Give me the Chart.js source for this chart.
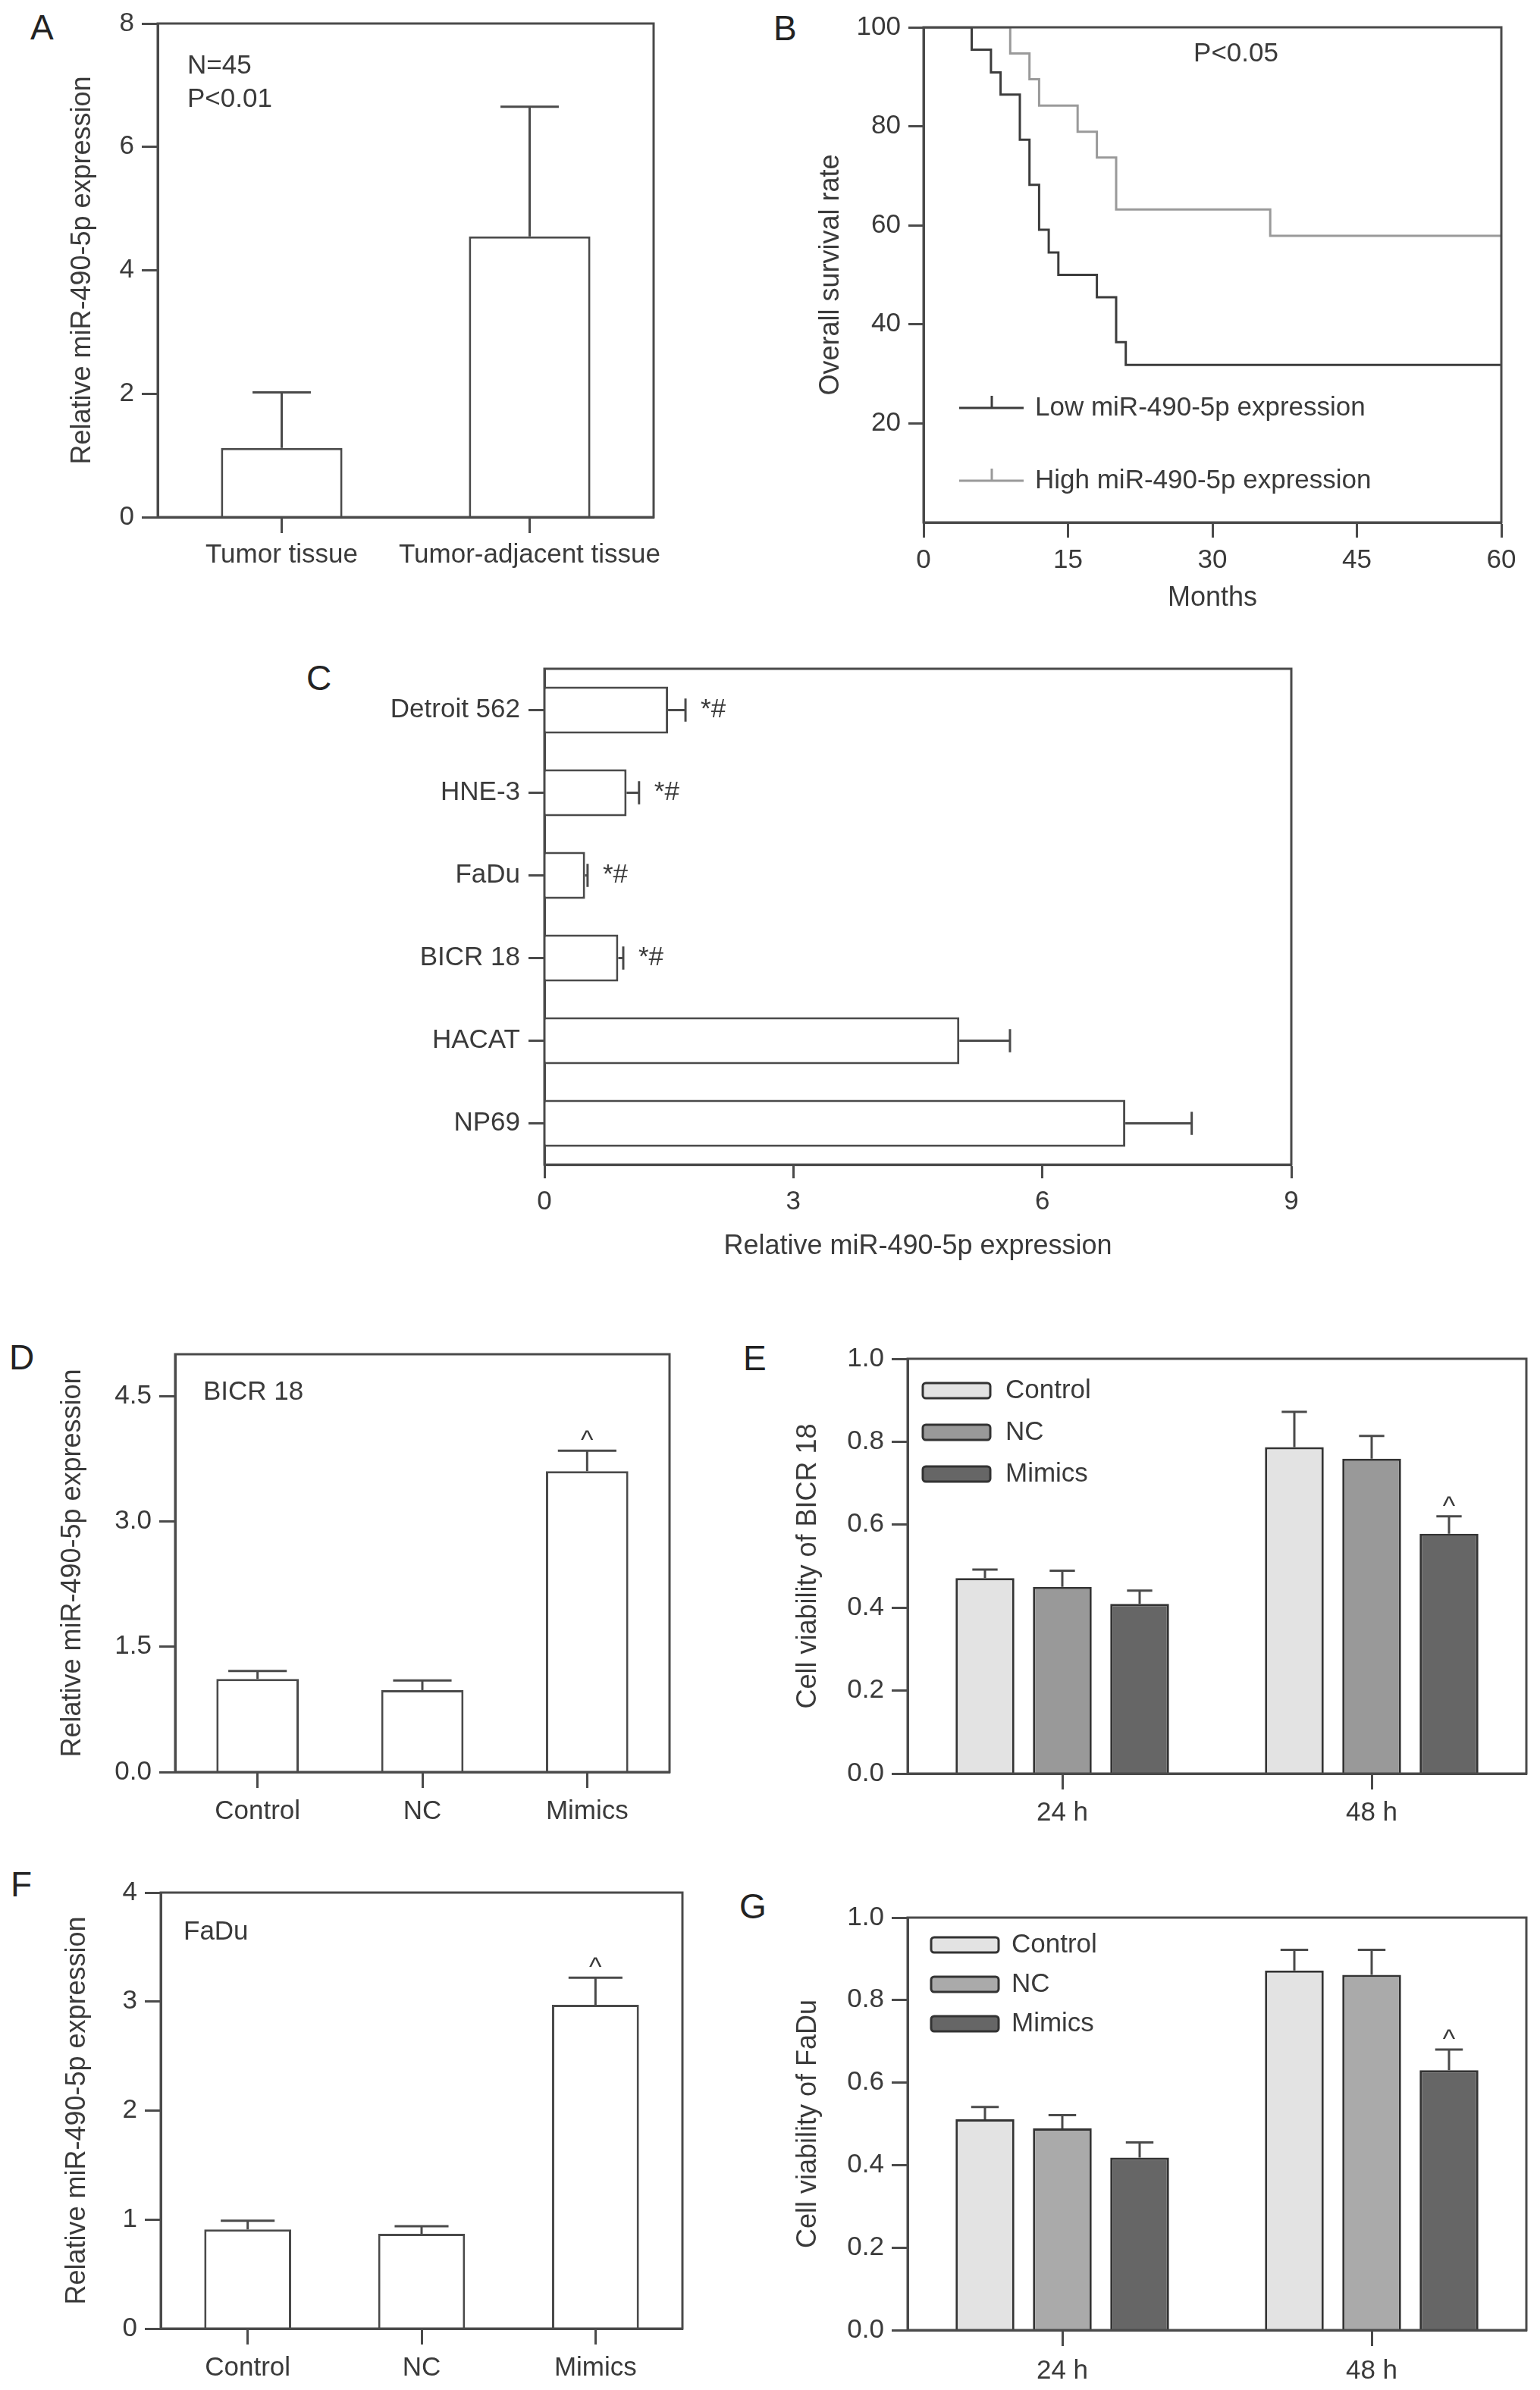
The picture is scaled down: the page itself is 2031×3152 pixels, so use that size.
<!DOCTYPE html>
<html>
<head>
<meta charset="utf-8">
<script src="https://cdn.jsdelivr.net/npm/chart.js@4.4.1/dist/chart.umd.min.js"></script>
<style>
body { margin: 0; background: #fff; width: 2031px; height: 3152px; position: relative; overflow: hidden; font-family: 'Liberation Sans', Arial, sans-serif; }
canvas { position: absolute; }
.tag { position: absolute; font-size: 46px; line-height: 1; color: #222; }
</style>
</head>
<body>
<div class="tag" style="left:40px;top:13px">A</div>
<div class="tag" style="left:1020px;top:14px">B</div>
<div class="tag" style="left:404px;top:871px">C</div>
<div class="tag" style="left:12px;top:1767px">D</div>
<div class="tag" style="left:980px;top:1768px">E</div>
<div class="tag" style="left:14px;top:2462px">F</div>
<div class="tag" style="left:975px;top:2491px">G</div>

<canvas id="chartA"></canvas>
<canvas id="chartB"></canvas>
<canvas id="chartC"></canvas>
<canvas id="chartD"></canvas>
<canvas id="chartE"></canvas>
<canvas id="chartF"></canvas>
<canvas id="chartG"></canvas>

<script>
// ---- data ----
// A: tumour vs adjacent tissue
const tissueLabels = ['Tumor tissue', 'Tumor-adjacent tissue'];
const tissueMeans = [1.12, 4.55];
const tissueErrors = [0.90, 2.10];

// B: Kaplan-Meier curves
const lowMonths = [0, 5, 7, 8, 10, 11, 12, 13, 14, 18, 20, 21, 60];
const lowSurvival = [100, 95.5, 90.9, 86.4, 77.3, 68.2, 59.1, 54.5, 50.0, 45.5, 36.4, 31.8, 31.8];
const highMonths = [0, 9, 11, 12, 16, 18, 20, 36, 60];
const highSurvival = [100, 94.7, 89.5, 84.2, 78.9, 73.7, 63.2, 57.9, 57.9];

// C: cell lines
const cellLines = ['Detroit 562', 'HNE-3', 'FaDu', 'BICR 18', 'HACAT', 'NP69'];
const cellMeans = [1.49, 0.99, 0.49, 0.89, 5.0, 7.0];
const cellErrors = [0.21, 0.15, 0.03, 0.06, 0.61, 0.80];
const cellMarks = ['*#', '*#', '*#', '*#', '', ''];

// D / F: transfection groups
const groups = ['Control', 'NC', 'Mimics'];
const bicrMeans = [1.115, 0.98, 3.60];
const bicrErrors = [0.095, 0.115, 0.245];
const fadMeans = [0.91, 0.87, 2.97];
const fadErrors = [0.08, 0.07, 0.25];
const groupMarks = ['', '', '^'];

// E / G: viability
const times = ['24 h', '48 h'];
const bicrControl = [0.471, 0.787], bicrControlErr = [0.021, 0.085];
const bicrNC = [0.450, 0.759], bicrNCErr = [0.039, 0.055];
const bicrMimics = [0.409, 0.578], bicrMimicsErr = [0.032, 0.042];
const fadControl = [0.511, 0.872], fadControlErr = [0.030, 0.050];
const fadNC = [0.489, 0.861], fadNCErr = [0.032, 0.061];
const fadMimics = [0.418, 0.630], fadMimicsErr = [0.037, 0.050];
const timeMarks = ['', '^'];

// ---- styling helpers ----
const INK = '#3a3a3a';
const LINE = '#4a4a4a';
const FONT = "'Liberation Sans', Arial, sans-serif";
const tickFont = { family: FONT, size: 35 };
const titleFont = { family: FONT, size: 36 };

function grid(len) {
    return { drawOnChartArea: false, drawTicks: true, tickLength: len, tickColor: LINE, tickWidth: 3, offset: false };
}
const border = { display: true, color: LINE, width: 3 };

function frame() {
    return {
        id: 'frame',
        afterDatasetsDraw(chart) {
            const { ctx, chartArea: a } = chart;
            ctx.save();
            ctx.strokeStyle = LINE;
            ctx.lineWidth = 3;
            ctx.strokeRect(a.left, a.top, a.right - a.left, a.bottom - a.top);
            ctx.restore();
        }
    };
}

function errorBars(capRatio, horizontal) {
    return {
        id: 'errorBars',
        afterDatasetsDraw(chart) {
            const ctx = chart.ctx;
            const valueScale = horizontal ? chart.scales.x : chart.scales.y;
            chart.data.datasets.forEach((ds, di) => {
                const meta = chart.getDatasetMeta(di);
                meta.data.forEach((bar, i) => {
                    const end = valueScale.getPixelForValue(ds.data[i] + ds.errors[i]);
                    ctx.save();
                    ctx.strokeStyle = LINE;
                    ctx.lineWidth = 3;
                    ctx.beginPath();
                    if (horizontal) {
                        const half = bar.height * capRatio / 2;
                        ctx.moveTo(bar.x, bar.y); ctx.lineTo(end, bar.y);
                        ctx.moveTo(end, bar.y - half); ctx.lineTo(end, bar.y + half);
                    } else {
                        const half = bar.width * capRatio / 2;
                        ctx.moveTo(bar.x, bar.y); ctx.lineTo(bar.x, end);
                        ctx.moveTo(bar.x - half, end); ctx.lineTo(bar.x + half, end);
                    }
                    ctx.stroke();
                    const mark = ds.marks && ds.marks[i];
                    if (mark) {
                        ctx.fillStyle = INK;
                        ctx.font = '35px ' + FONT;
                        if (horizontal) {
                            ctx.textAlign = 'left';
                            ctx.textBaseline = 'middle';
                            ctx.fillText(mark, end + 20, bar.y);
                        } else {
                            ctx.textAlign = 'center';
                            ctx.textBaseline = 'alphabetic';
                            ctx.fillText(mark, bar.x, end - 2);
                        }
                    }
                    ctx.restore();
                });
            });
        }
    };
}

function notes(items) {
    return {
        id: 'notes',
        afterDraw(chart) {
            const { ctx, chartArea: a } = chart;
            ctx.save();
            ctx.fillStyle = INK;
            ctx.font = '35px ' + FONT;
            ctx.textBaseline = 'middle';
            items.forEach(n => {
                ctx.textAlign = n.align || 'left';
                ctx.fillText(n.text, a.left + n.dx, a.top + n.dy);
            });
            ctx.restore();
        }
    };
}

function boxLegend(dx, dy, gap, textDx) {
    return {
        id: 'boxLegend',
        afterDraw(chart) {
            const { ctx, chartArea: a } = chart;
            chart.data.datasets.forEach((ds, i) => {
                const x = a.left + dx, y = a.top + dy + i * gap;
                ctx.save();
                ctx.fillStyle = ds.backgroundColor;
                ctx.strokeStyle = '#333';
                ctx.lineWidth = 3;
                ctx.beginPath();
                ctx.roundRect(x, y, 89, 20, 4);
                ctx.fill();
                ctx.stroke();
                ctx.fillStyle = INK;
                ctx.font = '35px ' + FONT;
                ctx.textAlign = 'left';
                ctx.textBaseline = 'middle';
                ctx.fillText(ds.label, x + textDx, y + 10);
                ctx.restore();
            });
        }
    };
}

function kmLegend(rows) {
    return {
        id: 'kmLegend',
        afterDraw(chart) {
            const { ctx, chartArea: a } = chart;
            chart.data.datasets.forEach((ds, i) => {
                const y = a.top + rows[i];
                const x0 = a.left + 47, x1 = a.left + 132, xm = a.left + 90;
                ctx.save();
                ctx.strokeStyle = ds.borderColor;
                ctx.lineWidth = 3;
                ctx.beginPath();
                ctx.moveTo(x0, y); ctx.lineTo(x1, y);
                ctx.moveTo(xm, y); ctx.lineTo(xm, y - 16);
                ctx.stroke();
                ctx.fillStyle = INK;
                ctx.font = '35px ' + FONT;
                ctx.textAlign = 'left';
                ctx.textBaseline = 'middle';
                ctx.fillText(ds.label, x1 + 15, y);
                ctx.restore();
            });
        }
    };
}

function yScale(min, max, step, title, fmt, extra) {
    return Object.assign({
        min: min, max: max,
        grid: grid(21),
        border: border,
        ticks: { stepSize: step, font: tickFont, color: INK, padding: 10, callback: fmt },
        title: { display: !!title, text: title, font: titleFont, color: INK, padding: { top: 0, bottom: 0 } }
    }, extra || {});
}

function catScale(labels, padding) {
    return {
        type: 'category',
        labels: labels,
        grid: grid(21),
        border: border,
        ticks: { font: tickFont, color: INK, padding: padding, maxRotation: 0, minRotation: 0, autoSkip: false }
    };
}

// place canvas so that the plot area lands on the given rectangle
function panel(id, box, plot, config) {
    const c = document.getElementById(id);
    c.width = box.w;
    c.height = box.h;
    c.style.left = box.x + 'px';
    c.style.top = box.y + 'px';
    const yw = plot.l - box.x;
    const xh = box.y + box.h - plot.b;
    const o = config.options;
    o.responsive = false;
    o.animation = false;
    o.devicePixelRatio = 1;
    o.layout = { padding: { top: plot.t - box.y, right: box.x + box.w - plot.r, left: 0, bottom: 0 } };
    o.plugins = { legend: { display: false }, tooltip: { enabled: false } };
    o.scales.x.afterFit = s => { s.height = xh; };
    o.scales.y.afterFit = s => { s.width = yw; };
    return new Chart(c, config);
}

const whiteBar = { backgroundColor: '#ffffff', borderColor: LINE, borderWidth: 3 };

// A
panel('chartA', { x: 87, y: 0, w: 893, h: 790 }, { l: 208, t: 31, r: 862, b: 682 }, {
    type: 'bar',
    data: {
        labels: tissueLabels,
        datasets: [Object.assign({ data: tissueMeans, errors: tissueErrors, barPercentage: 0.49, categoryPercentage: 1 }, whiteBar)]
    },
    options: {
        scales: {
            x: catScale(tissueLabels, 8),
            y: yScale(0, 8, 2, 'Relative miR-490-5p expression', v => v)
        }
    },
    plugins: [frame(), errorBars(0.48, false), notes([
        { text: 'N=45', dx: 39, dy: 56 },
        { text: 'P<0.01', dx: 39, dy: 100 }
    ])]
});

// B
const toPoints = (xs, ys) => xs.map((x, i) => ({ x: x, y: ys[i] }));
panel('chartB', { x: 1074, y: 0, w: 957, h: 811 }, { l: 1218, t: 36, r: 1980, b: 689 }, {
    type: 'line',
    data: {
        datasets: [
            { label: 'Low miR-490-5p expression', data: toPoints(lowMonths, lowSurvival), borderColor: '#3c3c3c', borderWidth: 3, pointRadius: 0, stepped: true, fill: false },
            { label: 'High miR-490-5p expression', data: toPoints(highMonths, highSurvival), borderColor: '#9a9a9a', borderWidth: 3, pointRadius: 0, stepped: true, fill: false }
        ]
    },
    options: {
        scales: {
            x: {
                type: 'linear', min: 0, max: 60,
                grid: grid(20), border: border,
                ticks: { stepSize: 15, font: tickFont, color: INK, padding: 9 },
                title: { display: true, text: 'Months', font: titleFont, color: INK, padding: { top: 0, bottom: 0 } }
            },
            y: yScale(0, 100, 20, 'Overall survival rate', v => (v === 0 ? '' : v), {
                grid: Object.assign(grid(20), { tickColor: c => (c.tick && c.tick.value === 0 ? 'rgba(0,0,0,0)' : LINE) })
            })
        }
    },
    plugins: [frame(), kmLegend([502, 598]), notes([{ text: 'P<0.05', dx: 412, dy: 35, align: 'center' }])]
});

// C
panel('chartC', { x: 480, y: 850, w: 1280, h: 816 }, { l: 718, t: 880, r: 1703, b: 1536 }, {
    type: 'bar',
    data: {
        labels: cellLines,
        datasets: [Object.assign({ data: cellMeans, errors: cellErrors, marks: cellMarks, barPercentage: 0.57, categoryPercentage: 1 }, whiteBar)]
    },
    options: {
        indexAxis: 'y',
        scales: {
            x: {
                type: 'linear', min: 0, max: 9,
                grid: grid(18), border: border,
                ticks: { stepSize: 3, font: tickFont, color: INK, padding: 10 },
                title: { display: true, text: 'Relative miR-490-5p expression', font: titleFont, color: INK, padding: { top: 0, bottom: 0 } }
            },
            y: catScale(cellLines, 11)
        }
    },
    plugins: [frame(), errorBars(0.49, true)]
});

// D
panel('chartD', { x: 74, y: 1750, w: 866, h: 670 }, { l: 231, t: 1786, r: 883, b: 2337 }, {
    type: 'bar',
    data: {
        labels: groups,
        datasets: [Object.assign({ data: bicrMeans, errors: bicrErrors, marks: groupMarks, barPercentage: 0.5, categoryPercentage: 1 }, whiteBar)]
    },
    options: {
        scales: {
            x: catScale(groups, 10),
            y: yScale(0, 5, 1.5, 'Relative miR-490-5p expression', v => v.toFixed(1), {}),
        }
    },
    plugins: [frame(), errorBars(0.71, false), notes([{ text: 'BICR 18', dx: 37, dy: 50 }])]
});
Chart.getChart('chartD').options.scales.y.ticks.includeBounds = false;
Chart.getChart('chartD').update();

// E
panel('chartE', { x: 1044, y: 1750, w: 987, h: 670 }, { l: 1197, t: 1792, r: 2013, b: 2339 }, {
    type: 'bar',
    data: {
        labels: times,
        datasets: [
            { label: 'Control', data: bicrControl, errors: bicrControlErr, backgroundColor: '#e3e3e3' },
            { label: 'NC', data: bicrNC, errors: bicrNCErr, backgroundColor: '#999999' },
            { label: 'Mimics', data: bicrMimics, errors: bicrMimicsErr, marks: timeMarks, backgroundColor: '#666666' }
        ].map(d => Object.assign(d, { borderColor: '#333', borderWidth: 3, barPercentage: 0.76, categoryPercentage: 0.75 }))
    },
    options: {
        scales: {
            x: catScale(times, 10),
            y: yScale(0, 1, 0.2, 'Cell viability of BICR 18', v => v.toFixed(1))
        }
    },
    plugins: [frame(), errorBars(0.43, false), boxLegend(20, 32, 55, 109)]
});

// F
panel('chartF', { x: 80, y: 2460, w: 880, h: 692 }, { l: 212, t: 2496, r: 900, b: 3071 }, {
    type: 'bar',
    data: {
        labels: groups,
        datasets: [Object.assign({ data: fadMeans, errors: fadErrors, marks: groupMarks, barPercentage: 0.5, categoryPercentage: 1 }, whiteBar)]
    },
    options: {
        scales: {
            x: catScale(groups, 10),
            y: yScale(0, 4, 1, 'Relative miR-490-5p expression', v => v)
        }
    },
    plugins: [frame(), errorBars(0.62, false), notes([{ text: 'FaDu', dx: 30, dy: 52 }])]
});

// G
panel('chartG', { x: 1044, y: 2490, w: 987, h: 662 }, { l: 1197, t: 2529, r: 2013, b: 3073 }, {
    type: 'bar',
    data: {
        labels: times,
        datasets: [
            { label: 'Control', data: fadControl, errors: fadControlErr, backgroundColor: '#e3e3e3' },
            { label: 'NC', data: fadNC, errors: fadNCErr, backgroundColor: '#aaaaaa' },
            { label: 'Mimics', data: fadMimics, errors: fadMimicsErr, marks: timeMarks, backgroundColor: '#666666' }
        ].map(d => Object.assign(d, { borderColor: '#333', borderWidth: 3, barPercentage: 0.76, categoryPercentage: 0.75 }))
    },
    options: {
        scales: {
            x: catScale(times, 12),
            y: yScale(0, 1, 0.2, 'Cell viability of FaDu', v => v.toFixed(1))
        }
    },
    plugins: [frame(), errorBars(0.47, false), boxLegend(31, 26, 52, 106)]
});
</script>
</body>
</html>
